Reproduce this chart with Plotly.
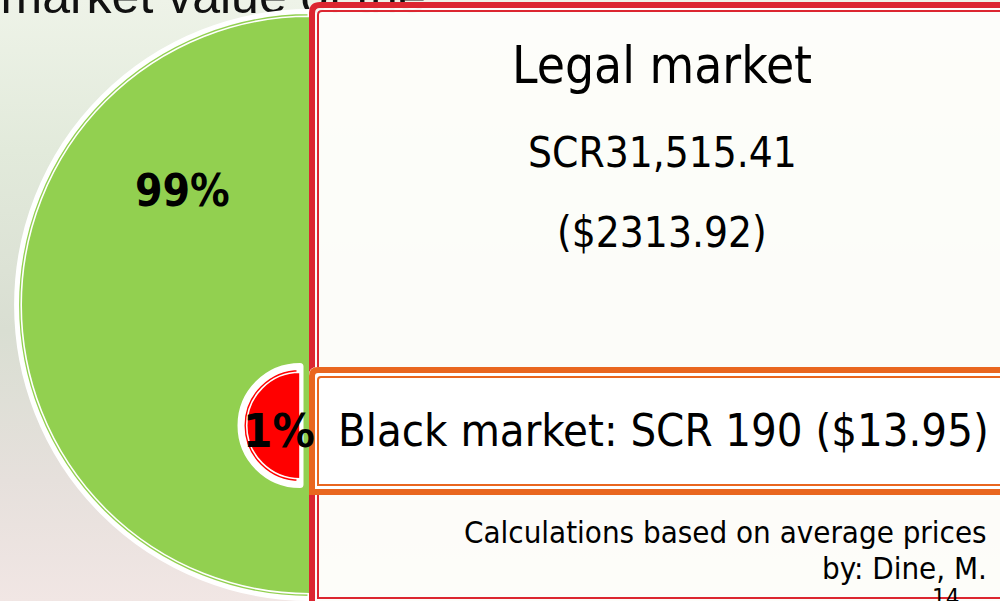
import base64
import plotly.graph_objects as go

# ---------------- data ----------------
segments = ["Legal market", "Black market"]
share_pct = [99, 1]
value_scr = [31515.41, 190]
value_usd = [2313.92, 13.95]
slice_colors = ["#92D050", "#FF0000"]
title_text = "market value of the"
note_lines = ["Calculations based on average prices", "by: Dine, M."]
slide_number = "14"

W, H = 1000, 601
FONT = "DejaVu Sans Condensed, DejaVu Sans, sans-serif"

fig = go.Figure()

# partly hidden slide title (behind the chart), drawn on pixel axes
fig.add_trace(go.Scatter(
    x=[0.5], y=[0], mode="text", text=[title_text], textposition="middle right",
    textfont=dict(family="Liberation Sans, Arial", size=50, color="#111111"),
    cliponaxis=False, hoverinfo="skip", showlegend=False))


def half_pie(share, color, cx, cy, R, lw, lcol):
    """semicircle slice (left half) - the first, invisible half completes the circle"""
    return go.Pie(
        values=[share, share], sort=False, direction="clockwise", rotation=0,
        marker=dict(colors=["rgba(0,0,0,0)", color],
                    line=dict(color=["rgba(0,0,0,0)", lcol], width=[0, lw])),
        textinfo="none", hoverinfo="skip", showlegend=False,
        domain=dict(x=[(cx - R) / W, (cx + R) / W],
                    y=[1 - (cy + R) / H, 1 - (cy - R) / H]))


# big (legal) half pie with double outline
cxL, cyL = 310, 305
fig.add_trace(half_pie(share_pct[0], slice_colors[0], cxL, cyL, 293.5, 5, "white"))
fig.add_trace(half_pie(share_pct[0], slice_colors[0], cxL, cyL, 288.8, 1.6, "white"))
# small (black market) half pie with double outline
cxB, cyB = 300, 425.5
fig.add_trace(half_pie(share_pct[1], slice_colors[1], cxB, cyB, 59, 7, "white"))
fig.add_trace(half_pie(share_pct[1], slice_colors[1], cxB, cyB, 53.3, 1.6, "white"))


def rounded(x0, y0, x1, y1, r, closed=True):
    p = (f"M {x0},{y1} L {x0},{y0 + r} Q {x0},{y0} {x0 + r},{y0} "
         f"L {x1},{y0} L {x1},{y1}")
    return p + (" Z" if closed else "")


RED = "#DC2630"
ORANGE = "#E9661F"
shapes = []
# legal-market box
shapes.append(dict(type="path", path=rounded(309, 2, 1010, 612, 10), xref="x", yref="y",
                   fillcolor="rgba(253,253,250,0.97)", line=dict(width=0), layer="above"))
shapes.append(dict(type="path", path=rounded(312, 5, 1010, 604, 8), xref="x", yref="y",
                   line=dict(color=RED, width=6), layer="above"))
shapes.append(dict(type="path", path=rounded(318, 11, 1010, 598, 4), xref="x", yref="y",
                   line=dict(color=RED, width=2), layer="above"))
# black-market box
shapes.append(dict(type="path", path=rounded(309, 367, 1010, 495, 8), xref="x", yref="y",
                   fillcolor="#FFFFFF", line=dict(width=0), layer="above"))
shapes.append(dict(type="path", path=rounded(312, 370, 1010, 492, 6), xref="x", yref="y",
                   line=dict(color=ORANGE, width=6), layer="above"))
shapes.append(dict(type="path", path=rounded(318, 377, 1010, 485, 3), xref="x", yref="y",
                   line=dict(color=ORANGE, width=2), layer="above"))

ann = []


def A(text, x, y, size, xanchor="center", bold=False, family=FONT, color="#000000"):
    ann.append(dict(text=f"<b>{text}</b>" if bold else text, x=x, y=y, xref="x", yref="y",
                    xanchor=xanchor, yanchor="middle", showarrow=False,
                    font=dict(family=family, size=size, color=color)))


A(segments[0], 662, 65, 51)
A(f"SCR{value_scr[0]:,.2f}", 662, 152, 42)
A(f"(${value_usd[0]:.2f})", 662, 232, 42)
A(f"{segments[1]}: SCR {value_scr[1]:,.0f} (${value_usd[1]:.2f})", 663, 430, 45)
A(note_lines[0], 989, 532, 31, xanchor="right")
A(note_lines[1], 989, 568, 31, xanchor="right")
A(slide_number, 945, 598, 24)
A(f"{share_pct[0]}%", 182, 190, 44, bold=True)
A(f"{share_pct[1]}%", 279, 430, 47, bold=True)

# soft slide background (vertical gradient)
svg_bg = ('<svg xmlns="http://www.w3.org/2000/svg" width="10" height="100" preserveAspectRatio="none">'
          '<defs><linearGradient id="g" x1="0" y1="0" x2="0" y2="1">'
          '<stop offset="0" stop-color="#EEF3E8"/><stop offset="0.25" stop-color="#E2EADB"/>'
          '<stop offset="0.55" stop-color="#D9DED2"/><stop offset="0.8" stop-color="#E6E0DC"/>'
          '<stop offset="1" stop-color="#F1E6E4"/></linearGradient></defs>'
          '<rect width="10" height="100" fill="url(#g)"/></svg>')
bg_src = "data:image/svg+xml;base64," + base64.b64encode(svg_bg.encode()).decode()

fig.update_layout(
    width=W, height=H, margin=dict(l=0, r=0, t=0, b=0),
    paper_bgcolor="#E3E9DC", plot_bgcolor="rgba(0,0,0,0)",
    xaxis=dict(range=[0, W], visible=False, fixedrange=True),
    yaxis=dict(range=[H, 0], visible=False, fixedrange=True),
    images=[dict(source=bg_src, xref="paper", yref="paper", x=0, y=1, sizex=1, sizey=1,
                 xanchor="left", yanchor="top", sizing="stretch", layer="below")],
    shapes=shapes, annotations=ann, showlegend=False)

fig.write_html("out.html", config={"displayModeBar": False},
               post_script="document.body.style.margin='0px';")
